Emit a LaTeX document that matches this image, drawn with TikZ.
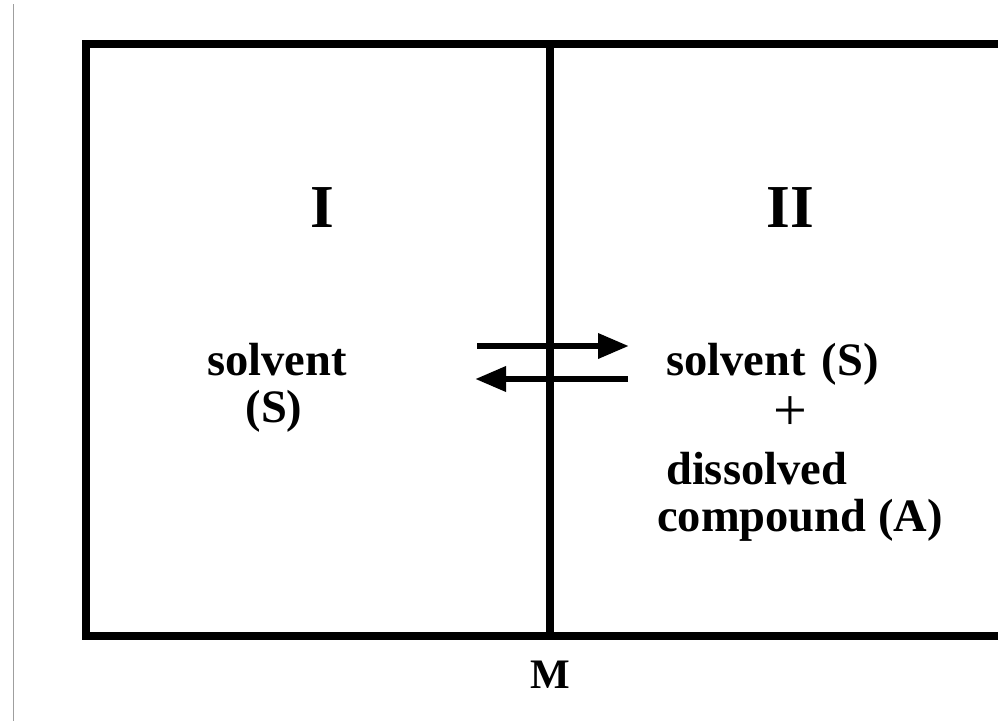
\documentclass[tikz,border=0pt]{standalone}
\usepackage{fontspec}
\setmainfont{Liberation Serif}
\usetikzlibrary{arrows.meta}
\tikzset{
  wall/.style={line width=7.5pt, line cap=rect},
  flow/.style={line width=6.5pt, -{Triangle[length=31pt,width=24pt]}},
  lbl/.style={inner sep=0pt, font=\bfseries\fontsize{46.5}{50}\selectfont},
  roman/.style={inner sep=0pt, font=\bfseries\fontsize{61}{64}\selectfont},
}
\begin{document}
\begin{tikzpicture}[x=1pt,y=-1pt]
\useasboundingbox (0,0) rectangle (998,721);
\clip (0,0) rectangle (998,721);
\fill[white] (0,0) rectangle (998,721);
% thin gray margin line
\draw[gray!75, line width=1.8pt] (13.5,4) -- (13.5,721);
% box
\coordinate (tl) at (86,44);
\coordinate (bl) at (86,636);
\coordinate (tr) at (1010,44);
\coordinate (br) at (1010,636);
\coordinate (mt) at (550,44);
\coordinate (mb) at (550,636);
\draw[wall] (tr) -- (tl) -- (bl) -- (br);
\draw[wall, line cap=butt] (mt) -- (mb);
% arrows
\coordinate (a1s) at (477,346);
\coordinate (a1e) at (629,346);
\coordinate (a2s) at (628,379);
\coordinate (a2e) at (475,379);
\draw[flow] (a1s) -- (a1e);
\draw[flow] (a2s) -- (a2e);
% labels
\node[roman, anchor=base] (I) at (322,227) {I};
\node[roman, anchor=base] (II) at (790,227) {II};
\node[lbl, anchor=base] (s1) at (277,375) {solvent};
\node[lbl, anchor=base] (s1b) at (274,422) {(S)};
\node[lbl, anchor=base west] (s2) at (666,375) {solvent\hspace{0.35em}(S)};
\node[inner sep=0pt, font=\fontsize{60}{60}\selectfont, anchor=center] (plus) at (790,414) {+};
\node[lbl, anchor=base west] (d) at (666,484) {dissolved};
\node[lbl, anchor=base west] (c) at (657,531) {compound (A)};
\node[inner sep=0pt, font=\bfseries\fontsize{42}{44}\selectfont, anchor=base] (M) at (550,688) {M};
\end{tikzpicture}
\end{document}
